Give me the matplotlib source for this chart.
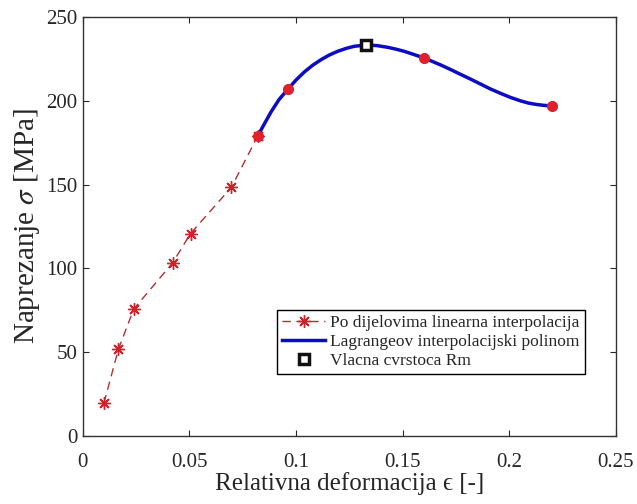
import matplotlib
matplotlib.use('Agg')
import matplotlib.pyplot as plt

# tocke po dijelovima linearne interpolacije
eps_lin = [0.0099, 0.0167, 0.0239, 0.0421, 0.0505, 0.0697, 0.0820]
sig_lin = [19.6, 51.8, 75.8, 103.3, 120.8, 148.5, 179.0]

# cvorovi Lagrangeovog polinoma
eps_nod = [0.0820, 0.0961, 0.1600, 0.2198]
sig_nod = [179.0, 206.9, 225.5, 197.0]

# tocke ocitane s krivulje polinoma
eps_pol = [0.0820, 0.0850, 0.0883, 0.0920, 0.0961, 0.1000, 0.1039, 0.1078, 0.1117,
           0.1156, 0.1195, 0.1234, 0.1273, 0.1330, 0.1380, 0.1429, 0.1468, 0.1507,
           0.1550, 0.1600, 0.1640, 0.1679, 0.1725, 0.1772, 0.1820, 0.1866, 0.1910,
           0.1959, 0.2005, 0.2053, 0.2090, 0.2131, 0.2165, 0.2198]
sig_pol = [179.0, 186.0, 193.5, 200.8, 206.9, 212.5, 217.3, 221.3, 224.6,
           227.4, 229.6, 231.3, 232.6, 233.4, 233.0, 232.0, 230.9, 229.6,
           227.8, 225.6, 223.5, 221.4, 218.7, 215.8, 212.9, 210.0, 207.2,
           204.5, 202.1, 200.0, 198.7, 197.8, 197.3, 197.0]

# vlacna cvrstoca
eps_rm = [0.1330]
sig_rm = [233.4]

plt.rcParams['font.family'] = ['Liberation Serif', 'DejaVu Serif']
plt.rcParams['mathtext.fontset'] = 'stix'

txt = '#262626'

fig = plt.figure(figsize=(6.37, 5.04), dpi=100)
ax = fig.add_axes([0.130, 0.135, 0.837, 0.831])

ax.plot(eps_lin, sig_lin, color='#b03030', ls=(0, (6, 4)), lw=1.0,
        marker=(8, 2, 0), ms=9, mec='#d0202a', mew=1.0,
        label='Po dijelovima linearna interpolacija')
ax.plot(eps_pol, sig_pol, color='#0c0cc4', lw=2.5, label='Lagrangeov interpolacijski polinom')
ax.plot(eps_nod, sig_nod, ls='none', marker='o', ms=7, color='#e0202a', zorder=3)
ax.plot(eps_rm, sig_rm, ls='none', marker='s', ms=7.5, mfc='white', mec='#111111', mew=2.5,
        zorder=4, label='Vlacna cvrstoca Rm')

ax.set_xlim(0, 0.25)
ax.set_ylim(0, 250)
ax.set_xticks([0, 0.05, 0.1, 0.15, 0.2, 0.25])
ax.set_xticklabels(['0', '0.05', '0.1', '0.15', '0.2', '0.25'])
ax.set_yticks([0, 50, 100, 150, 200, 250])
ax.tick_params(direction='in', top=True, right=True, labelsize=15, length=4,
               width=0.8, colors=txt)
ax.tick_params(axis='x', pad=12)
ax.tick_params(axis='y', pad=4)
for s in ax.spines.values():
    s.set_color('#333333')
    s.set_linewidth(1.0)

ax.set_xlabel('Relativna deformacija \u03f5 [-]', fontsize=18, color=txt, labelpad=0)
ax.set_ylabel('Naprezanje $\\sigma$ [MPa]', fontsize=21, color=txt, labelpad=3)

leg = ax.legend(loc='lower right', bbox_to_anchor=(0.942, 0.148), fontsize=12.5,
                frameon=True, fancybox=False, edgecolor='black', framealpha=1,
                handlelength=2.5, borderpad=0.3, labelspacing=0.15, handletextpad=0.3,
                borderaxespad=0)
leg.get_frame().set_linewidth(1.0)
for t in leg.get_texts():
    t.set_color(txt)

plt.savefig('out.png', dpi=100)
